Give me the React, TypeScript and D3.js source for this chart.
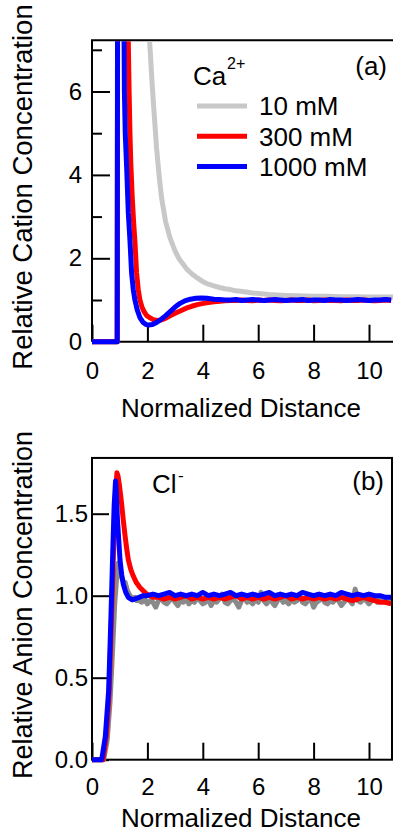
import React, { useEffect, useRef } from "react";
import * as d3 from "d3";

// ---------- DATA ----------
// Panel (a): Ca2+ relative concentration vs normalized distance
const ca10Head: [number, number][] = [
  [0, 0], [0.91, 0], [0.94, 16], [1.4, 12], [1.9, 8.4], [2.05, 7.5], [2.1, 7.0], [2.16, 6.3],
  [2.22, 5.7], [2.33, 4.65], [2.42, 4.0], [2.51, 3.46], [2.65, 2.9], [2.81, 2.5], [3.0, 2.17],
  [3.15, 1.98], [3.28, 1.87], [3.42, 1.74], [3.6, 1.63], [3.8, 1.53], [4.0, 1.44], [4.2, 1.38],
  [4.4, 1.34], [4.6, 1.30], [4.8, 1.27], [5.0, 1.25], [5.2, 1.22], [5.5, 1.2], [5.8, 1.17],
  [6.1, 1.15], [6.4, 1.13], [6.7, 1.12], [7.0, 1.11], [7.4, 1.1], [8.0, 1.09], [8.5, 1.09],
  [9.0, 1.08], [9.5, 1.08], [10.0, 1.07], [10.5, 1.07], [10.9, 1.07],
];
const ca300Head: [number, number][] = [
  [0, 0], [0.91, 0], [0.935, 14], [1.2, 10], [1.3, 7.6], [1.32, 6.8], [1.34, 6.0], [1.37, 5.0],
  [1.4, 4.3], [1.45, 3.5], [1.5, 2.9], [1.55, 2.4], [1.61, 1.65], [1.67, 1.25], [1.73, 1.0],
  [1.8, 0.84], [1.88, 0.72], [1.97, 0.63], [2.1, 0.57], [2.21, 0.53], [2.35, 0.51], [2.5, 0.52],
  [2.65, 0.56], [2.82, 0.62], [3.0, 0.68], [3.2, 0.74], [3.42, 0.81], [3.6, 0.85], [3.8, 0.89],
  [4.02, 0.92], [4.2, 0.94], [4.4, 0.96], [4.62, 0.97], [4.8, 0.98], [5.0, 0.99],
];
const ca300TailStart = 5.2;
const ca300Tail: number[] = [
  0.99, 1.0, 0.99, 0.98, 1.0, 0.99, 1.0, 0.99, 0.98, 0.99, 1.0, 0.99, 0.99, 1.0, 0.98,
  0.99, 1.0, 0.99, 0.99, 0.98, 1.0, 0.99, 0.99, 1.0, 0.99, 0.98, 0.99, 1.0, 0.99,
];
const ca1000Head: [number, number][] = [
  [0, 0], [0.91, 0], [0.93, 14], [1.05, 11], [1.15, 7.8], [1.16, 7.0], [1.17, 6.0], [1.2, 5.0],
  [1.25, 4.2], [1.31, 3.1], [1.37, 2.43], [1.43, 1.64], [1.49, 1.25], [1.55, 1.0], [1.63, 0.77],
  [1.73, 0.58], [1.85, 0.46], [1.95, 0.41], [2.05, 0.4], [2.18, 0.41], [2.33, 0.46], [2.5, 0.54],
  [2.65, 0.62], [2.82, 0.72], [3.0, 0.83], [3.18, 0.92], [3.35, 0.98], [3.55, 1.02], [3.75, 1.04],
  [3.95, 1.05], [4.15, 1.04], [4.4, 1.02], [4.6, 1.01], [4.8, 1.0],
];
const ca1000TailStart = 5.0;
const ca1000Tail: number[] = [
  1.0, 1.01, 0.99, 1.0, 1.01, 1.0, 0.99, 1.0, 1.01, 1.0, 0.99, 1.0, 1.0, 1.01, 0.99,
  1.0, 1.0, 0.99, 1.01, 1.0, 1.0, 0.99, 1.0, 1.01, 1.0, 0.99, 1.0, 1.0, 1.01, 1.0,
];

// Panel (b): Cl- relative concentration
const cl10Head: [number, number][] = [
  [0, 0], [0.42, 0], [0.55, 0.12], [0.65, 0.35], [0.73, 0.62], [0.82, 0.95], [0.9, 1.13],
  [0.95, 1.2], [1.0, 1.19], [1.05, 1.12], [1.12, 1.09], [1.2, 1.08], [1.28, 1.03], [1.37, 1.0],
  [1.47, 0.98], [1.55, 0.99], [1.62, 0.97],
];
const cl10TailStart = 1.7;
const cl10Tail: number[] = [
  0.97, 0.96, 0.98, 0.95, 0.97, 0.96, 0.93, 0.97, 0.98, 0.96,
  0.95, 0.97, 0.99, 0.96, 0.94, 0.97, 0.96, 0.98, 0.95, 0.97,
  0.96, 0.99, 0.97, 0.95, 0.96, 0.98, 0.94, 0.97, 0.96, 0.98,
  1.01, 0.96, 0.95, 0.97, 0.98, 0.96, 0.93, 0.97, 0.99, 0.96,
  0.97, 0.95, 0.98, 0.96, 1.02, 0.97, 0.95, 0.98, 0.96, 0.94,
  0.97, 0.99, 0.96, 0.97, 0.95, 0.98, 0.96, 0.97, 1.0, 0.96,
  0.95, 0.97, 0.98, 0.93, 0.96, 0.97, 0.99, 0.96, 0.95, 0.97,
  0.96, 0.98, 0.97, 0.94, 0.96, 0.98, 0.97, 0.95, 1.04, 0.97,
  0.96, 0.98, 0.97, 0.95, 0.97, 0.99, 0.96, 0.98, 0.97, 0.96,
  0.98, 0.97, 0.96,
];
const cl300Head: [number, number][] = [
  [0, 0], [0.4, 0], [0.52, 0.15], [0.62, 0.42], [0.7, 0.85], [0.78, 1.28], [0.85, 1.62],
  [0.9, 1.75], [0.94, 1.73], [1.0, 1.66], [1.07, 1.56], [1.13, 1.46], [1.19, 1.37], [1.25, 1.29],
  [1.31, 1.22], [1.4, 1.16], [1.49, 1.12], [1.6, 1.08], [1.73, 1.05], [1.85, 1.03], [1.97, 1.01],
  [2.1, 1.0], [2.2, 0.99],
];
const cl300TailStart = 2.4;
const cl300Tail: number[] = [
  0.99, 0.98, 0.99, 0.98, 0.99, 1.0, 0.98, 0.99, 0.98, 0.99,
  0.98, 0.99, 0.98, 0.99, 1.0, 0.98, 0.99, 0.98, 0.99, 0.98,
  0.99, 0.98, 0.99, 1.0, 0.98, 0.99, 0.98, 0.99, 0.98, 0.99,
  0.98, 0.99, 0.98, 0.99, 0.98, 0.97, 0.98, 0.99, 0.98, 0.97,
  0.96, 0.96, 0.95,
];
const cl1000Head: [number, number][] = [
  [0, 0], [0.35, 0], [0.48, 0.14], [0.6, 0.42], [0.68, 0.85], [0.75, 1.27], [0.8, 1.55],
  [0.85, 1.7], [0.88, 1.62], [0.92, 1.46], [0.97, 1.33], [1.01, 1.22], [1.07, 1.13], [1.13, 1.07],
  [1.22, 1.02], [1.31, 0.99], [1.45, 0.975], [1.55, 0.98], [1.7, 0.99], [1.85, 1.0],
];
const cl1000TailStart = 2.0;
const cl1000Tail: number[] = [
  1.0, 1.01, 1.0, 1.01, 1.02, 1.0, 1.01, 1.0, 1.01, 1.0,
  1.02, 1.0, 1.01, 1.0, 1.01, 1.02, 1.0, 1.01, 1.0, 1.01,
  1.0, 1.01, 1.02, 1.0, 1.01, 1.0, 1.01, 1.0, 1.02, 1.01,
  1.0, 1.01, 1.0, 1.01, 1.0, 1.02, 1.01, 1.0, 1.01, 1.0,
  1.01, 1.0, 1.0, 0.99, 0.99,
];

const legendLabels = ["10 mM", "300 mM", "1000 mM"];
const xTicks = [0, 2, 4, 6, 8, 10];
const yTopMajor = [0, 2, 4, 6];
const yTopMinor = [1, 3, 5, 7];
const yBotMajor = [0, 0.5, 1.0, 1.5];

// ---------- LAYOUT ----------
const W = 393;
const H = 832;
const FONT = "'Liberation Sans', Arial, Helvetica, sans-serif";
const COL_GRAY_A = "#c8c8c8";
const COL_GRAY_B = "#8a8a8a";
const COL_RED = "#ff0000";
const COL_BLUE = "#0000ff";

function withTail(head: [number, number][], start: number, step: number, tail: number[]): [number, number][] {
  return head.concat(tail.map((v, i) => [start + i * step, v] as [number, number]));
}

const x = d3.scaleLinear().domain([0, 10]).range([92, 369]);
const yTop = d3.scaleLinear().domain([0, 7]).range([341.7, 341.7 - 7 * 41.7]);
const yBot = d3.scaleLinear().domain([0, 1.5]).range([759.7, 759.7 - 1.5 * 164]);
const xMaxA = 11.2;
const xMaxB = 10.83;
const yTopMax = 7.23;
const yBotMax = 1.84;

export default function App() {
  const axTopX = useRef<SVGGElement>(null);
  const axTopY = useRef<SVGGElement>(null);
  const axTopYm = useRef<SVGGElement>(null);
  const axBotX = useRef<SVGGElement>(null);
  const axBotY = useRef<SVGGElement>(null);

  useEffect(() => {
    const style = (g: d3.Selection<SVGGElement, unknown, null, undefined>) => {
      g.select(".domain").remove();
      g.selectAll(".tick line").attr("stroke", "#000").attr("stroke-width", 2);
      g.selectAll(".tick text").attr("fill", "#000").style("font-family", FONT).style("font-size", "24px");
    };
    const sel = (r: React.RefObject<SVGGElement>) => {
      const g = d3.select(r.current as SVGGElement);
      g.selectAll("*").remove();
      return g;
    };
    style(sel(axTopX).call(
      d3.axisBottom(x).tickValues(xTicks).tickSizeInner(-17).tickSizeOuter(0).tickPadding(20).tickFormat(d3.format("d"))
    ) as any);
    style(sel(axTopY).call(
      d3.axisLeft(yTop).tickValues(yTopMajor).tickSizeInner(-18).tickSizeOuter(0).tickPadding(10).tickFormat(d3.format("d"))
    ) as any);
    style(sel(axTopYm).call(
      d3.axisLeft(yTop).tickValues(yTopMinor).tickSizeInner(-10).tickSizeOuter(0).tickFormat(() => "")
    ) as any);
    style(sel(axBotX).call(
      d3.axisBottom(x).tickValues(xTicks).tickSizeInner(-17).tickSizeOuter(0).tickPadding(18).tickFormat(d3.format("d"))
    ) as any);
    style(sel(axBotY).call(
      d3.axisLeft(yBot).tickValues(yBotMajor).tickSizeInner(-17).tickSizeOuter(0).tickPadding(4).tickFormat(d3.format(".1f"))
    ) as any);
  }, []);

  const lineA = d3.line<[number, number]>().x((d) => x(d[0])).y((d) => yTop(d[1]));
  const lineB = d3.line<[number, number]>().x((d) => x(d[0])).y((d) => yBot(d[1]));

  const ca10 = ca10Head;
  const ca300 = withTail(ca300Head, ca300TailStart, 0.2, ca300Tail);
  const ca1000 = withTail(ca1000Head, ca1000TailStart, 0.2, ca1000Tail);
  const cl10 = withTail(cl10Head, cl10TailStart, 0.1, cl10Tail);
  const cl300 = withTail(cl300Head, cl300TailStart, 0.2, cl300Tail);
  const cl1000 = withTail(cl1000Head, cl1000TailStart, 0.2, cl1000Tail);

  const x0 = x(0);
  const topA = yTop(yTopMax);
  const botA = yTop(0);
  const rightA = x(xMaxA);
  const topB = yBot(yBotMax);
  const botB = yBot(0);
  const rightB = x(xMaxB);

  const lw = 5;
  const legendColors = [COL_GRAY_A, COL_RED, COL_BLUE];

  return (
    <svg width={W} height={H} style={{ position: "absolute", left: 0, top: 0, background: "#fff" }} fontFamily={FONT}>
      <defs>
        <clipPath id="clipA">
          <rect x={x0} y={topA + 1} width={rightA - x0} height={botA - topA + 6} />
        </clipPath>
        <clipPath id="clipB">
          <rect x={x0} y={topB + 1} width={rightB - x0 - 1} height={botB - topB + 6} />
        </clipPath>
      </defs>
      <rect x={0} y={0} width={W} height={H} fill="#fff" />

      {/* ---------- Panel (a) ---------- */}
      <g>
        <path d={`M${x0},${botA}V${topA}H${rightA}`} fill="none" stroke="#000" strokeWidth={2} />
        <path d={`M${x0},${botA}H${rightA}`} fill="none" stroke="#000" strokeWidth={2} />
        <g ref={axTopX} transform={`translate(0,${botA})`} />
        <g ref={axTopY} transform={`translate(${x0},0)`} />
        <g ref={axTopYm} transform={`translate(${x0},0)`} />
        <g clipPath="url(#clipA)" fill="none" strokeWidth={lw} strokeLinejoin="round">
          <path d={lineA(ca10) || ""} stroke={COL_GRAY_A} />
          <path d={lineA(ca300) || ""} stroke={COL_RED} />
          <path d={lineA(ca1000) || ""} stroke={COL_BLUE} />
        </g>
        <text x={193} y={85} fontSize={26} fill="#000">Ca</text>
        <text x={227} y={68.5} fontSize={16} fill="#000">2+</text>
        {legendLabels.map((lab, i) => (
          <g key={lab}>
            <line x1={197} x2={247} y1={106 + i * 30.3} y2={106 + i * 30.3} stroke={legendColors[i]} strokeWidth={5} />
            <text x={259} y={115 + i * 30.5} fontSize={26} fill="#000">{lab}</text>
          </g>
        ))}
        <text x={387} y={75} fontSize={26} textAnchor="end" fill="#000">(a)</text>
        <text transform={`translate(31.5,187) rotate(-90)`} fontSize={27.5} textAnchor="middle" fill="#000">
          Relative Cation Concentration
        </text>
        <text x={241} y={416.5} fontSize={26} textAnchor="middle" fill="#000">Normalized Distance</text>
      </g>

      {/* ---------- Panel (b) ---------- */}
      <g>
        <rect x={x0} y={topB} width={rightB - x0} height={botB - topB} fill="none" stroke="#000" strokeWidth={2} />
        <g ref={axBotX} transform={`translate(0,${botB})`} />
        <g ref={axBotY} transform={`translate(${x0},0)`} />
        <g clipPath="url(#clipB)" fill="none" strokeWidth={lw} strokeLinejoin="round">
          <path d={lineB(cl10) || ""} stroke={COL_GRAY_B} />
          <path d={lineB(cl300) || ""} stroke={COL_RED} />
          <path d={lineB(cl1000) || ""} stroke={COL_BLUE} />
        </g>
        <text x={152} y={493} fontSize={26} fill="#000">Cl</text>
        <text x={178} y={481} fontSize={17} fill="#000">-</text>
        <text x={384} y={490} fontSize={26} textAnchor="end" fill="#000">(b)</text>
        <text transform={`translate(31.5,605) rotate(-90)`} fontSize={27} textAnchor="middle" fill="#000">
          Relative Anion Concentration
        </text>
        <text x={241} y={826.5} fontSize={26} textAnchor="middle" fill="#000">Normalized Distance</text>
      </g>
    </svg>
  );
}
